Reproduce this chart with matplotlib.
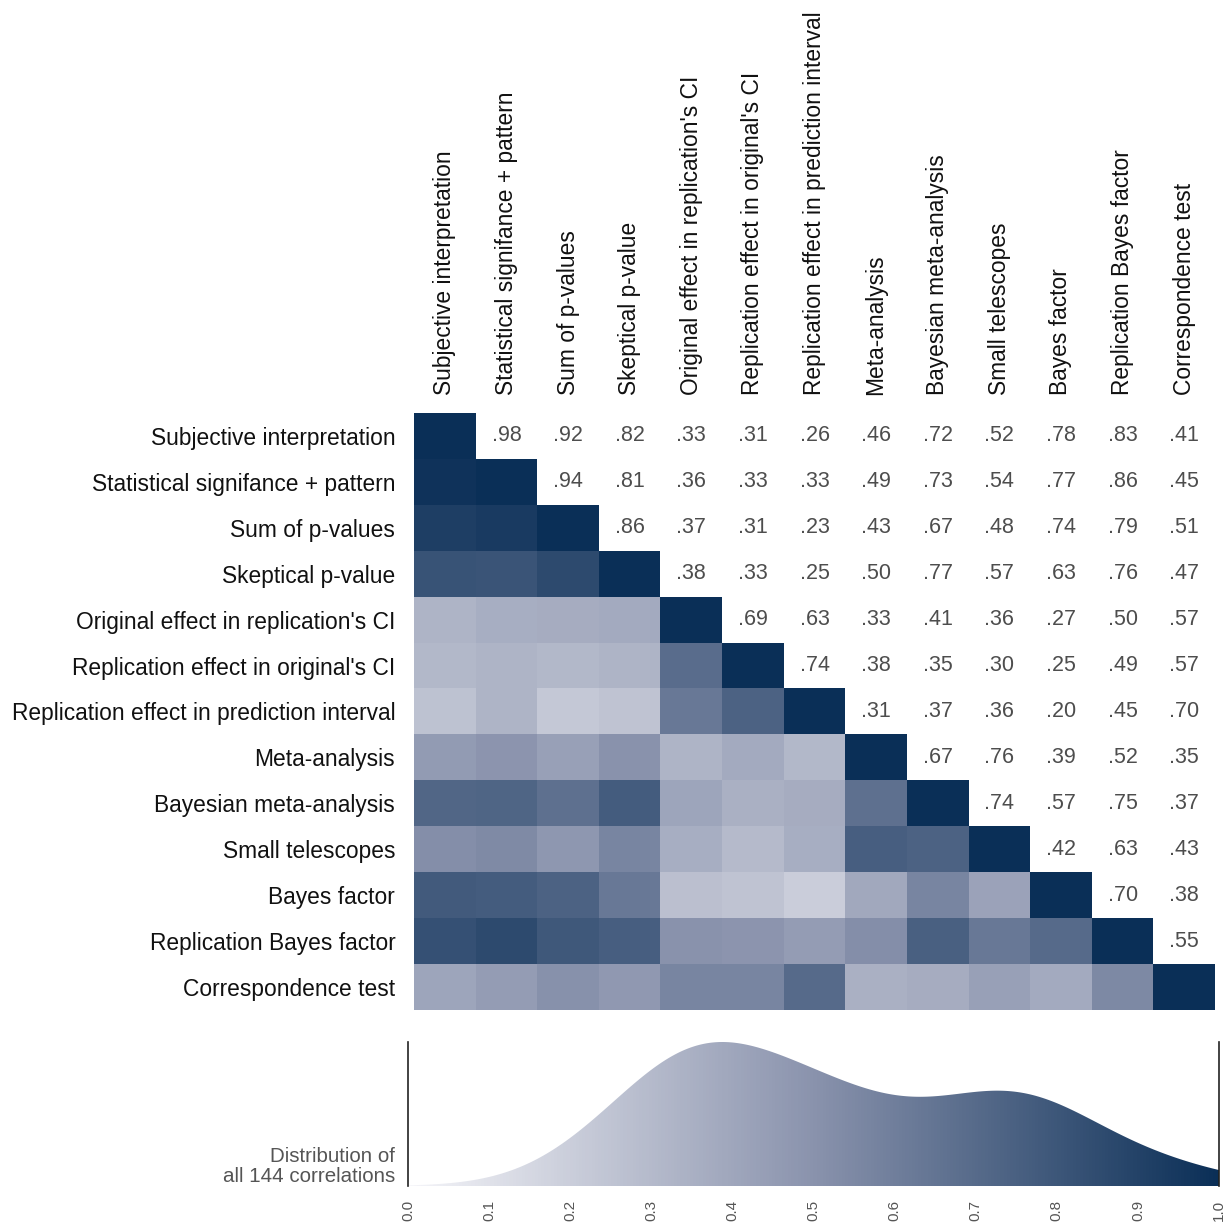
import numpy as np
import matplotlib.pyplot as plt
from matplotlib.colors import LinearSegmentedColormap

plt.rcParams['font.family'] = ['Liberation Sans', 'DejaVu Sans']

methods = ["Subjective interpretation", "Statistical signifance + pattern",
           "Sum of p-values", "Skeptical p-value",
           "Original effect in replication's CI", "Replication effect in original's CI",
           "Replication effect in prediction interval", "Meta-analysis",
           "Bayesian meta-analysis", "Small telescopes", "Bayes factor",
           "Replication Bayes factor", "Correspondence test"]

# upper triangle, row by row (columns to the right of the diagonal)
upper_rows = [
    [.98, .92, .82, .33, .31, .26, .46, .72, .52, .78, .83, .41],
    [.94, .81, .36, .33, .33, .49, .73, .54, .77, .86, .45],
    [.86, .37, .31, .23, .43, .67, .48, .74, .79, .51],
    [.38, .33, .25, .50, .77, .57, .63, .76, .47],
    [.69, .63, .33, .41, .36, .27, .50, .57],
    [.74, .38, .35, .30, .25, .49, .57],
    [.31, .37, .36, .20, .45, .70],
    [.67, .76, .39, .52, .35],
    [.74, .57, .75, .37],
    [.42, .63, .43],
    [.70, .38],
    [.55],
]

n = len(methods)
corr = np.eye(n)
for i, row in enumerate(upper_rows):
    for k, v in enumerate(row):
        corr[i, i + 1 + k] = v
        corr[i + 1 + k, i] = v

cmap = LinearSegmentedColormap.from_list(
    "navy", ["#f5f5f9", "#8a93ad", "#0a2f57"])

fig = plt.figure(figsize=(12.24, 12.24), dpi=100)
W = H = 1224.0

# heatmap axes (pixel box: x 414-1215, y 413-1010)
ax = fig.add_axes([414 / W, 1 - 1010 / H, (1215 - 414) / W, (1010 - 413) / H])
lower = np.where(np.tril(np.ones((n, n), bool)), corr, np.nan)
ax.imshow(lower, cmap=cmap, vmin=0, vmax=1, aspect='auto',
          interpolation='nearest')
for i in range(n):
    for j in range(i + 1, n):
        ax.text(j, i, ("%.2f" % corr[i, j]).lstrip("0"), ha='center',
                va='center', fontsize=15.5, color='#4d4d4d')
ax.set_xticks(range(n))
ax.set_yticks(range(n))
ax.set_xticklabels(methods, rotation=90, fontsize=16.4, color='#111111')
ax.set_yticklabels(methods, fontsize=16.4, color='#111111')
ax.xaxis.tick_top()
ax.tick_params(axis='y', length=0, pad=13.5)
ax.tick_params(axis='x', length=0, pad=13)
for s in ax.spines.values():
    s.set_visible(False)

# density of the correlations
vals = corr[np.triu_indices(n, 1)]
xs = np.linspace(0, 1, 400)
bw = 0.085
dens = np.exp(-0.5 * ((xs[:, None] - vals[None, :]) / bw) ** 2).sum(axis=1)
dens = dens / dens.max()

ax2 = fig.add_axes([408 / W, 1 - 1186 / H, (1219 - 408) / W, (1186 - 1042) / H])
ax2.set_xlim(0, 1)
ax2.set_ylim(0, 1.0)
grad = np.linspace(0, 1, 256)[None, :]
im = ax2.imshow(grad, cmap=cmap, vmin=0, vmax=1, extent=[0, 1, 0, 1],
                aspect='auto', origin='lower')
poly = ax2.fill_between(xs, 0, dens, color='none')
clip = poly.get_paths()[0]
im.set_clip_path(clip, transform=ax2.transData)
for side in ['top', 'bottom']:
    ax2.spines[side].set_visible(False)
for side in ['left', 'right']:
    ax2.spines[side].set_color('#222222')
    ax2.spines[side].set_linewidth(1.2)
ax2.set_yticks([])
ax2.set_xticks(np.round(np.arange(0, 1.01, 0.1), 1))
ax2.set_xticklabels(["%.1f" % t for t in np.arange(0, 1.01, 0.1)],
                    rotation=90, fontsize=11, color='#555555')
ax2.tick_params(axis='x', length=0, pad=10)
ax2.text(-0.016, 0.0, "Distribution of\nall 144 correlations",
         transform=ax2.transAxes, ha='right', va='bottom', fontsize=14.8,
         color='#555555', linespacing=1.1)

fig.savefig("out.png", dpi=100)
